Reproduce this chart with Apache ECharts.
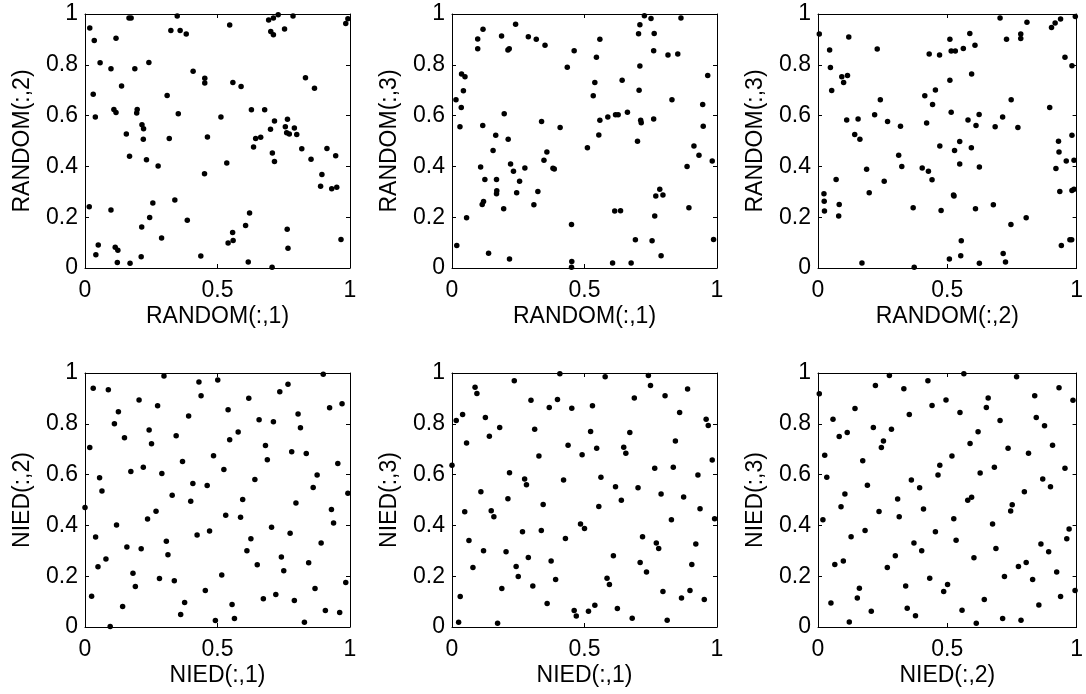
<!DOCTYPE html>
<html>
<head>
<meta charset="utf-8">
<script src="https://cdn.jsdelivr.net/npm/echarts@6/dist/echarts.min.js"></script>
<style>
  html, body { margin: 0; padding: 0; background: #fff; }
  #main { width: 1086px; height: 694px; }
</style>
</head>
<body>
<div id="main"></div>
<script>
// axis tick values
var xTicks = [0, 0.5, 1];
var yTicks = [0, 0.2, 0.4, 0.6, 0.8, 1];

// axis titles, one per panel (row by row)
var xNames = ['RANDOM(:,1)', 'RANDOM(:,1)', 'RANDOM(:,2)', 'NIED(:,1)', 'NIED(:,1)', 'NIED(:,2)'];
var yNames = ['RANDOM(:,2)', 'RANDOM(:,3)', 'RANDOM(:,3)', 'NIED(:,2)', 'NIED(:,3)', 'NIED(:,3)'];

// random sample, columns 1 vs 2
var random12 = [
  [0.166,0.984],[0.174,0.984],[0.348,0.992],[0.018,0.945],[0.035,0.896],[0.117,0.905],[0.324,0.935],
  [0.359,0.935],[0.382,0.921],[0.546,0.957],[0.693,0.976],[0.711,0.984],[0.729,0.997],[0.785,0.992],
  [0.701,0.931],[0.711,0.918],[0.753,0.941],[0.992,0.981],[0.984,0.963],[0.057,0.808],[0.098,0.784],
  [0.188,0.784],[0.241,0.809],[0.138,0.717],[0.031,0.684],[0.310,0.679],[0.408,0.775],[0.452,0.747],
  [0.452,0.728],[0.558,0.730],[0.589,0.715],[0.832,0.749],[0.866,0.708],[0.109,0.624],[0.117,0.612],
  [0.197,0.624],[0.195,0.610],[0.039,0.594],[0.352,0.607],[0.513,0.594],[0.628,0.623],[0.678,0.623],
  [0.715,0.579],[0.764,0.586],[0.756,0.556],[0.700,0.546],[0.790,0.551],[0.761,0.532],[0.771,0.528],
  [0.799,0.526],[0.215,0.564],[0.221,0.548],[0.156,0.528],[0.220,0.507],[0.318,0.510],[0.462,0.516],
  [0.644,0.510],[0.663,0.515],[0.636,0.476],[0.707,0.453],[0.715,0.419],[0.818,0.469],[0.913,0.470],
  [0.853,0.428],[0.946,0.442],[0.168,0.440],[0.232,0.426],[0.276,0.402],[0.535,0.413],[0.451,0.371],
  [0.894,0.368],[0.889,0.322],[0.931,0.312],[0.950,0.318],[0.016,0.241],[0.098,0.228],[0.256,0.256],
  [0.339,0.268],[0.244,0.199],[0.386,0.188],[0.621,0.217],[0.214,0.161],[0.289,0.118],[0.606,0.167],
  [0.557,0.140],[0.540,0.098],[0.559,0.108],[0.763,0.153],[0.766,0.078],[0.966,0.112],[0.050,0.091],
  [0.041,0.052],[0.114,0.082],[0.124,0.070],[0.122,0.022],[0.170,0.019],[0.212,0.044],[0.437,0.047],
  [0.616,0.024],[0.706,0.003]
];

// random sample, columns 1 vs 3
var random13 = [
  [0.726,0.993],[0.751,0.982],[0.709,0.958],[0.864,0.984],[0.240,0.960],[0.117,0.940],[0.187,0.913],
  [0.097,0.902],[0.288,0.910],[0.318,0.901],[0.351,0.877],[0.097,0.863],[0.211,0.858],[0.216,0.863],
  [0.558,0.901],[0.704,0.922],[0.763,0.923],[0.461,0.855],[0.545,0.830],[0.761,0.855],[0.815,0.839],
  [0.852,0.843],[0.709,0.795],[0.435,0.790],[0.036,0.764],[0.049,0.753],[0.043,0.698],[0.015,0.662],
  [0.035,0.632],[0.030,0.556],[0.539,0.730],[0.642,0.739],[0.965,0.758],[0.533,0.678],[0.706,0.700],
  [0.830,0.662],[0.946,0.644],[0.197,0.607],[0.116,0.561],[0.338,0.577],[0.408,0.553],[0.558,0.582],
  [0.588,0.594],[0.617,0.603],[0.627,0.603],[0.662,0.613],[0.712,0.582],[0.714,0.572],[0.761,0.587],
  [0.948,0.558],[0.165,0.523],[0.212,0.507],[0.554,0.524],[0.700,0.499],[0.155,0.463],[0.358,0.457],
  [0.511,0.473],[0.913,0.480],[0.932,0.444],[0.982,0.421],[0.108,0.398],[0.221,0.409],[0.347,0.424],
  [0.275,0.394],[0.381,0.393],[0.386,0.390],[0.232,0.381],[0.887,0.400],[0.124,0.348],[0.168,0.348],
  [0.255,0.342],[0.169,0.304],[0.168,0.292],[0.244,0.296],[0.324,0.301],[0.119,0.262],[0.114,0.250],
  [0.309,0.249],[0.195,0.233],[0.784,0.310],[0.769,0.283],[0.796,0.287],[0.614,0.224],[0.636,0.225],
  [0.765,0.205],[0.894,0.237],[0.055,0.198],[0.451,0.171],[0.018,0.089],[0.138,0.058],[0.217,0.035],
  [0.452,0.026],[0.451,0.003],[0.606,0.020],[0.676,0.020],[0.692,0.111],[0.755,0.107],[0.789,0.048],
  [0.987,0.112]
];

// random sample, columns 2 vs 3
var random23 = [
  [0.005,0.921],[0.704,0.984],[0.808,0.968],[0.903,0.947],[0.917,0.965],[0.938,0.980],[0.995,0.990],
  [0.119,0.909],[0.045,0.858],[0.229,0.862],[0.510,0.901],[0.587,0.923],[0.729,0.901],[0.784,0.921],
  [0.784,0.904],[0.430,0.843],[0.470,0.839],[0.515,0.854],[0.531,0.854],[0.562,0.864],[0.607,0.877],
  [0.955,0.830],[0.982,0.796],[0.048,0.789],[0.092,0.753],[0.114,0.758],[0.099,0.730],[0.053,0.699],
  [0.594,0.764],[0.510,0.739],[0.454,0.701],[0.413,0.678],[0.443,0.644],[0.241,0.662],[0.747,0.662],
  [0.896,0.632],[0.515,0.613],[0.623,0.604],[0.219,0.603],[0.111,0.583],[0.155,0.587],[0.269,0.577],
  [0.319,0.558],[0.420,0.571],[0.580,0.583],[0.611,0.561],[0.685,0.556],[0.714,0.594],[0.773,0.553],
  [0.142,0.526],[0.162,0.507],[0.548,0.498],[0.982,0.523],[0.471,0.480],[0.528,0.463],[0.593,0.473],
  [0.930,0.499],[0.932,0.457],[0.312,0.444],[0.548,0.409],[0.624,0.398],[0.324,0.400],[0.960,0.421],
  [0.990,0.424],[0.188,0.389],[0.403,0.394],[0.427,0.381],[0.920,0.392],[0.070,0.348],[0.256,0.342],
  [0.441,0.347],[0.023,0.292],[0.024,0.263],[0.025,0.224],[0.082,0.250],[0.080,0.205],[0.198,0.296],
  [0.524,0.287],[0.526,0.283],[0.935,0.301],[0.982,0.305],[0.990,0.310],[0.368,0.237],[0.476,0.226],
  [0.609,0.233],[0.678,0.249],[0.805,0.198],[0.746,0.171],[0.554,0.107],[0.941,0.089],[0.974,0.111],
  [0.981,0.111],[0.170,0.020],[0.372,0.003],[0.508,0.035],[0.552,0.048],[0.716,0.057],[0.725,0.024],
  [0.624,0.019]
];

// NIED design, columns 1 vs 2
var nied12 = [
  [0.298,0.988],[0.430,0.965],[0.501,0.972],[0.031,0.940],[0.088,0.934],[0.438,0.910],[0.204,0.894],
  [0.274,0.871],[0.126,0.847],[0.111,0.800],[0.391,0.831],[0.540,0.855],[0.618,0.901],[0.735,0.926],
  [0.766,0.956],[0.899,0.995],[0.923,0.863],[0.970,0.879],[0.804,0.839],[0.657,0.816],[0.711,0.808],
  [0.813,0.784],[0.242,0.776],[0.149,0.745],[0.344,0.753],[0.578,0.768],[0.546,0.737],[0.251,0.721],
  [0.018,0.707],[0.681,0.715],[0.780,0.690],[0.835,0.683],[0.485,0.674],[0.688,0.658],[0.368,0.652],
  [0.954,0.644],[0.173,0.612],[0.220,0.629],[0.290,0.604],[0.524,0.620],[0.876,0.598],[0.055,0.588],
  [0.641,0.581],[0.407,0.565],[0.461,0.557],[0.064,0.535],[0.861,0.549],[0.992,0.527],[0.329,0.519],
  [0.595,0.502],[0.399,0.495],[0.796,0.488],[0.000,0.470],[0.268,0.456],[0.930,0.463],[0.236,0.425],
  [0.531,0.440],[0.587,0.432],[0.119,0.402],[0.938,0.409],[0.704,0.393],[0.470,0.378],[0.423,0.362],
  [0.774,0.369],[0.040,0.354],[0.307,0.338],[0.626,0.347],[0.891,0.331],[0.158,0.315],[0.212,0.308],
  [0.611,0.300],[0.313,0.284],[0.079,0.268],[0.741,0.276],[0.049,0.237],[0.650,0.245],[0.844,0.253],
  [0.181,0.212],[0.750,0.221],[0.516,0.205],[0.281,0.191],[0.337,0.182],[0.190,0.159],[0.984,0.175],
  [0.454,0.144],[0.868,0.152],[0.025,0.121],[0.720,0.128],[0.673,0.111],[0.790,0.104],[0.376,0.096],
  [0.142,0.081],[0.555,0.089],[0.361,0.049],[0.564,0.033],[0.492,0.026],[0.907,0.065],[0.961,0.057],
  [0.828,0.019],[0.095,0.002]
];

// NIED design, columns 1 vs 3
var nied13 = [
  [0.407,0.997],[0.578,0.985],[0.741,0.990],[0.749,0.951],[0.235,0.969],[0.087,0.944],[0.094,0.919],
  [0.889,0.937],[0.804,0.910],[0.688,0.902],[0.298,0.893],[0.398,0.896],[0.367,0.864],[0.452,0.861],
  [0.530,0.871],[0.859,0.844],[0.040,0.837],[0.016,0.813],[0.126,0.825],[0.180,0.785],[0.959,0.818],
  [0.967,0.793],[0.312,0.779],[0.523,0.770],[0.671,0.766],[0.141,0.751],[0.055,0.724],[0.438,0.716],
  [0.546,0.704],[0.648,0.708],[0.656,0.684],[0.843,0.732],[0.491,0.678],[0.328,0.673],[0.000,0.637],
  [0.982,0.657],[0.765,0.625],[0.835,0.629],[0.217,0.607],[0.562,0.590],[0.928,0.598],[0.274,0.583],
  [0.281,0.560],[0.421,0.579],[0.109,0.532],[0.617,0.552],[0.702,0.548],[0.789,0.524],[0.874,0.512],
  [0.211,0.505],[0.639,0.499],[0.344,0.482],[0.554,0.474],[0.048,0.454],[0.148,0.458],[0.158,0.434],
  [0.936,0.466],[0.991,0.426],[0.828,0.422],[0.485,0.406],[0.500,0.388],[0.266,0.375],[0.337,0.380],
  [0.064,0.341],[0.428,0.348],[0.719,0.355],[0.771,0.331],[0.780,0.309],[0.920,0.327],[0.119,0.300],
  [0.204,0.296],[0.288,0.274],[0.374,0.260],[0.609,0.281],[0.079,0.234],[0.242,0.238],[0.710,0.254],
  [0.734,0.217],[0.905,0.246],[0.250,0.199],[0.391,0.187],[0.585,0.192],[0.594,0.167],[0.305,0.161],
  [0.188,0.152],[0.796,0.140],[0.898,0.144],[0.866,0.114],[0.952,0.108],[0.031,0.120],[0.359,0.093],
  [0.461,0.065],[0.469,0.043],[0.515,0.062],[0.539,0.086],[0.624,0.073],[0.680,0.034],[0.812,0.027],
  [0.025,0.019],[0.172,0.015]
];

// NIED design, columns 2 vs 3
var nied23 = [
  [0.005,0.918],[0.276,0.990],[0.222,0.951],[0.332,0.938],[0.425,0.969],[0.564,0.997],[0.768,0.985],
  [0.932,0.942],[0.986,0.893],[0.838,0.910],[0.658,0.902],[0.651,0.864],[0.495,0.894],[0.441,0.872],
  [0.549,0.844],[0.143,0.860],[0.353,0.837],[0.058,0.818],[0.704,0.813],[0.844,0.825],[0.876,0.792],
  [0.214,0.785],[0.284,0.779],[0.082,0.750],[0.113,0.766],[0.619,0.769],[0.253,0.732],[0.245,0.707],
  [0.588,0.722],[0.907,0.716],[0.026,0.676],[0.735,0.704],[0.814,0.684],[0.518,0.673],[0.173,0.655],
  [0.471,0.637],[0.682,0.629],[0.955,0.625],[0.464,0.598],[0.627,0.606],[0.034,0.590],[0.361,0.579],
  [0.869,0.583],[0.191,0.558],[0.393,0.548],[0.899,0.552],[0.104,0.524],[0.798,0.532],[0.308,0.504],
  [0.579,0.499],[0.594,0.511],[0.751,0.481],[0.745,0.457],[0.089,0.473],[0.236,0.455],[0.408,0.465],
  [0.314,0.434],[0.525,0.426],[0.019,0.422],[0.675,0.406],[0.182,0.380],[0.454,0.375],[0.971,0.386],
  [0.962,0.347],[0.128,0.355],[0.534,0.342],[0.371,0.331],[0.862,0.327],[0.688,0.309],[0.401,0.300],
  [0.892,0.296],[0.299,0.281],[0.603,0.273],[0.065,0.246],[0.098,0.260],[0.268,0.234],[0.775,0.238],
  [0.805,0.254],[0.923,0.217],[0.721,0.199],[0.432,0.192],[0.830,0.187],[0.160,0.153],[0.339,0.161],
  [0.501,0.167],[0.486,0.140],[0.994,0.144],[0.938,0.120],[0.152,0.114],[0.643,0.108],[0.050,0.094],
  [0.854,0.087],[0.206,0.062],[0.345,0.074],[0.377,0.044],[0.557,0.066],[0.121,0.020],[0.612,0.015],
  [0.714,0.033],[0.785,0.027]
];

var panelData = [random12, random13, random23, nied12, nied13, nied23];

var chart = echarts.init(document.getElementById('main'));
var gridLefts = [85, 452, 818];
var gridTops = [14, 373];
var font = 'Liberation Sans, Arial, Helvetica, sans-serif';

var grids = [], xAxes = [], yAxes = [], series = [];
panelData.forEach(function (pts, i) {
    var g = i;
    grids.push({
        left: gridLefts[i % 3], top: gridTops[Math.floor(i / 3)],
        width: 265, height: 254
    });
    var xBase = {
        gridIndex: g, type: 'value',
        min: xTicks[0], max: xTicks[xTicks.length - 1], interval: xTicks[1] - xTicks[0],
        axisLine: { show: true, onZero: false, lineStyle: { color: '#000', width: 1 } },
        axisTick: { show: true, inside: true, length: 4, lineStyle: { color: '#000' } },
        splitLine: { show: false }
    };
    var yBase = {
        gridIndex: g, type: 'value',
        min: yTicks[0], max: yTicks[yTicks.length - 1], interval: yTicks[1] - yTicks[0],
        axisLine: { show: true, onZero: false, lineStyle: { color: '#000', width: 1 } },
        axisTick: { show: true, inside: true, length: 4, lineStyle: { color: '#000' } },
        splitLine: { show: false }
    };
    // bottom and left axes carry labels
    xAxes.push(Object.assign({}, xBase, {
        position: 'bottom',
        name: xNames[i], nameLocation: 'middle', nameGap: 37,
        nameTextStyle: { color: '#000', fontSize: 23, fontFamily: font },
        axisLabel: { color: '#000', fontSize: 23, fontFamily: font, margin: 11 }
    }));
    yAxes.push(Object.assign({}, yBase, {
        position: 'left',
        name: yNames[i], nameLocation: 'middle', nameGap: 51,
        nameTextStyle: { color: '#000', fontSize: 23, fontFamily: font },
        axisLabel: { color: '#000', fontSize: 23, fontFamily: font, margin: 7 }
    }));
    // top and right axes close the box
    xAxes.push(Object.assign({}, xBase, { position: 'top', axisLabel: { show: false } }));
    yAxes.push(Object.assign({}, yBase, { position: 'right', axisLabel: { show: false } }));

    series.push({
        type: 'scatter',
        xAxisIndex: 2 * i, yAxisIndex: 2 * i,
        data: pts,
        symbolSize: 5.5,
        itemStyle: { color: '#000', opacity: 1 },
        silent: true
    });
});

option = {
    backgroundColor: '#fff',
    animation: false,
    grid: grids,
    xAxis: xAxes,
    yAxis: yAxes,
    series: series
};
chart.setOption(option);
</script>
</body>
</html>
